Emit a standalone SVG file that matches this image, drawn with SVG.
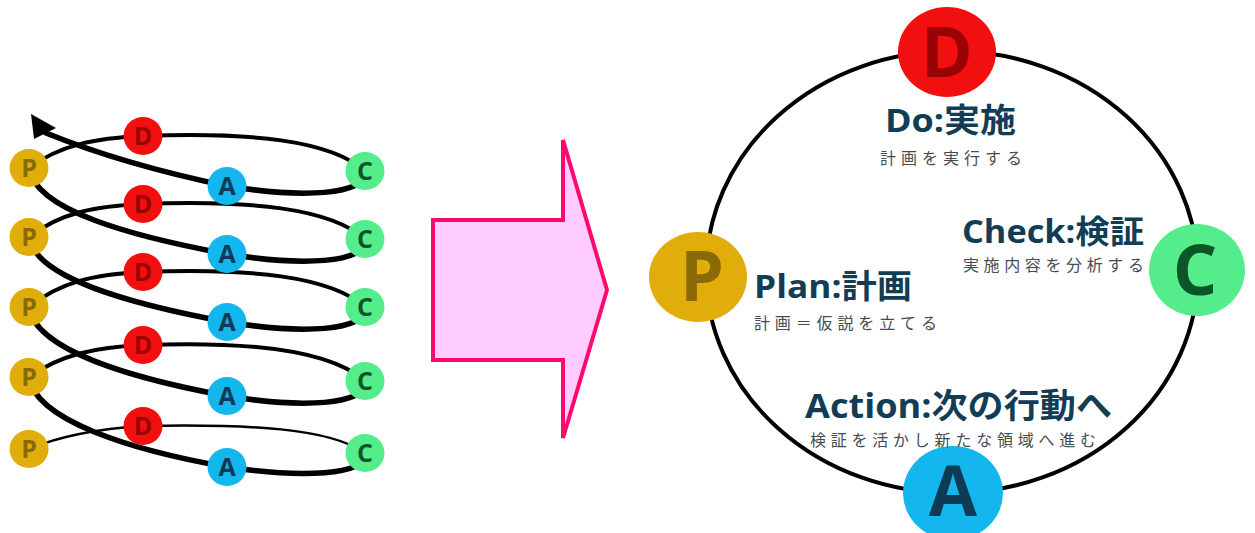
<svg xmlns="http://www.w3.org/2000/svg" width="1255" height="533" viewBox="0 0 1255 533">
  <style>
    .bg { fill: #ffffff; }
    .line { fill: none; stroke: #000; stroke-linecap: round; }
    .back { stroke-width: 4; }
    .front { stroke-width: 5.5; }
    .thin { stroke-width: 2.5; }
    .ring { fill: none; stroke: #000; stroke-width: 4; }
    .p { fill: #e1ad0b; }
    .d { fill: #f20f0f; }
    .a { fill: #14b6ee; }
    .c { fill: #55ec8c; }
    .pt { fill: #8a6a06; }
    .dt { fill: #9a0303; }
    .at { fill: #0d3b55; }
    .ct { fill: #0b5526; }
    .letter { font-family: "Open Sans", "DejaVu Sans", sans-serif; font-weight: 700; text-anchor: middle; }
    .sm { font-size: 25px; }
    .lg { font-size: 70px; }
    .title { font-family: "Open Sans", "Noto Sans CJK JP", sans-serif; font-weight: 700; fill: #123d55; }
    .sub { font-family: "Noto Sans CJK JP", sans-serif; font-size: 16px; fill: #454d52; }
    .block { fill: #ffccff; stroke: #ff0a6c; stroke-width: 4; stroke-linejoin: miter; }
  </style>

  <rect class="bg" x="0" y="0" width="1255" height="533"/>

  <!-- spiral of repeated P-D-C-A loops -->
  <g id="connectors">
    <!-- row 1 -->
    <path class="line back" d="M29,168 C60,145 95,138 143,136"/>
    <path class="line back" d="M143,136 C250,132 330,140 365,171"/>
    <path class="line front" d="M365,171 C368,196 300,198 227,186"/>
    <path class="line front" d="M227,186 C160,172 100,155 46,133"/>
    <polygon points="31,114 56,128 34,139" fill="#000"/>
    <!-- row 2 -->
    <path class="line back" d="M29,237 C60,213 95,206 143,204"/>
    <path class="line back" d="M143,204 C250,200 330,208 365,239"/>
    <path class="line front" d="M365,239 C368,264 300,266 227,254"/>
    <path class="line front" d="M227,254 C130,236 35,210 29,168"/>
    <!-- row 3 -->
    <path class="line back" d="M29,307 C60,282 95,274 143,272"/>
    <path class="line back" d="M143,272 C250,268 330,276 365,307"/>
    <path class="line front" d="M365,307 C368,332 300,334 227,322"/>
    <path class="line front" d="M227,322 C130,304 35,278 29,237"/>
    <!-- row 4 -->
    <path class="line back" d="M29,377 C60,355 95,347 143,345"/>
    <path class="line back" d="M143,345 C250,341 330,350 365,381"/>
    <path class="line front" d="M365,381 C368,406 300,408 227,396"/>
    <path class="line front" d="M227,396 C130,378 35,350 29,307"/>
    <!-- row 5 -->
    <path class="line thin" d="M29,449 C60,436 95,429 143,426"/>
    <path class="line thin" d="M143,426 C250,424 330,428 365,453"/>
    <path class="line front" d="M365,453 C368,476 300,478 227,467"/>
    <path class="line front" d="M227,467 C130,450 35,420 29,377"/>
  </g>

  <g id="sp-p1"><ellipse class="p" cx="29" cy="168" rx="19.5" ry="19"/><text class="letter sm pt" x="29" y="177">P</text></g>
  <g id="sp-d1"><ellipse class="d" cx="143" cy="136" rx="19.5" ry="19"/><text class="letter sm dt" x="143" y="145">D</text></g>
  <g id="sp-a1"><ellipse class="a" cx="227" cy="186" rx="19.5" ry="19"/><text class="letter sm at" x="227" y="195">A</text></g>
  <g id="sp-c1"><ellipse class="c" cx="365" cy="171" rx="19.5" ry="19"/><text class="letter sm ct" x="365" y="180">C</text></g>

  <g id="sp-p2"><ellipse class="p" cx="29" cy="237" rx="19.5" ry="19"/><text class="letter sm pt" x="29" y="246">P</text></g>
  <g id="sp-d2"><ellipse class="d" cx="143" cy="204" rx="19.5" ry="19"/><text class="letter sm dt" x="143" y="213">D</text></g>
  <g id="sp-a2"><ellipse class="a" cx="227" cy="254" rx="19.5" ry="19"/><text class="letter sm at" x="227" y="263">A</text></g>
  <g id="sp-c2"><ellipse class="c" cx="365" cy="239" rx="19.5" ry="19"/><text class="letter sm ct" x="365" y="248">C</text></g>

  <g id="sp-p3"><ellipse class="p" cx="29" cy="307" rx="19.5" ry="19"/><text class="letter sm pt" x="29" y="316">P</text></g>
  <g id="sp-d3"><ellipse class="d" cx="143" cy="272" rx="19.5" ry="19"/><text class="letter sm dt" x="143" y="281">D</text></g>
  <g id="sp-a3"><ellipse class="a" cx="227" cy="322" rx="19.5" ry="19"/><text class="letter sm at" x="227" y="331">A</text></g>
  <g id="sp-c3"><ellipse class="c" cx="365" cy="307" rx="19.5" ry="19"/><text class="letter sm ct" x="365" y="316">C</text></g>

  <g id="sp-p4"><ellipse class="p" cx="29" cy="377" rx="19.5" ry="19"/><text class="letter sm pt" x="29" y="386">P</text></g>
  <g id="sp-d4"><ellipse class="d" cx="143" cy="345" rx="19.5" ry="19"/><text class="letter sm dt" x="143" y="354">D</text></g>
  <g id="sp-a4"><ellipse class="a" cx="227" cy="396" rx="19.5" ry="19"/><text class="letter sm at" x="227" y="405">A</text></g>
  <g id="sp-c4"><ellipse class="c" cx="365" cy="381" rx="19.5" ry="19"/><text class="letter sm ct" x="365" y="390">C</text></g>

  <g id="sp-p5"><ellipse class="p" cx="29" cy="449" rx="19.5" ry="19"/><text class="letter sm pt" x="29" y="458">P</text></g>
  <g id="sp-d5"><ellipse class="d" cx="143" cy="426" rx="19.5" ry="19"/><text class="letter sm dt" x="143" y="435">D</text></g>
  <g id="sp-a5"><ellipse class="a" cx="227" cy="467" rx="19.5" ry="19"/><text class="letter sm at" x="227" y="476">A</text></g>
  <g id="sp-c5"><ellipse class="c" cx="365" cy="453" rx="19.5" ry="19"/><text class="letter sm ct" x="365" y="462">C</text></g>

  <!-- block arrow pointing to the cycle -->
  <polygon class="block" points="433,220 563,220 563,140 607,290 563,438 563,360 433,360"/>

  <!-- PDCA cycle -->
  <ellipse class="ring" cx="952" cy="272" rx="246" ry="221"/>

  <g id="node-d">
    <ellipse class="d" cx="947" cy="52" rx="49" ry="45"/>
    <text class="letter lg dt" x="947" y="77">D</text>
    <text class="title" x="885" y="132" font-size="33" textLength="131" lengthAdjust="spacingAndGlyphs">Do:実施</text>
    <text class="sub" x="880" y="164" textLength="142" lengthAdjust="spacing">計画を実行する</text>
  </g>

  <g id="node-c">
    <ellipse class="c" cx="1197" cy="270" rx="48" ry="46"/>
    <text class="letter lg ct" x="1195" y="295">C</text>
    <text class="title" x="962" y="243" font-size="32" textLength="182" lengthAdjust="spacingAndGlyphs">Check:検証</text>
    <text class="sub" x="963" y="271" textLength="181" lengthAdjust="spacing">実施内容を分析する</text>
  </g>

  <g id="node-p">
    <ellipse class="p" cx="698" cy="277" rx="49" ry="45"/>
    <text class="letter lg pt" x="702" y="301">P</text>
    <text class="title" x="754" y="298" font-size="33" textLength="158" lengthAdjust="spacingAndGlyphs">Plan:計画</text>
    <text class="sub" x="754" y="329" textLength="183" lengthAdjust="spacing">計画＝仮説を立てる</text>
  </g>

  <g id="node-a">
    <ellipse class="a" cx="953" cy="493" rx="50" ry="47"/>
    <text class="letter lg at" x="953" y="516">A</text>
    <text class="title" x="805" y="418" font-size="34" textLength="307" lengthAdjust="spacingAndGlyphs">Action:次の行動へ</text>
    <text class="sub" x="810" y="446" textLength="286" lengthAdjust="spacing">検証を活かし新たな領域へ進む</text>
  </g>
</svg>
